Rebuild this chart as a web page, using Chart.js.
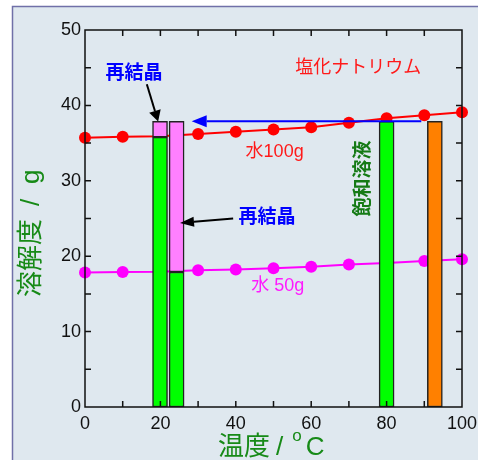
<!DOCTYPE html>
<html>
<head>
<meta charset="utf-8">
<script src="https://cdn.jsdelivr.net/npm/chart.js@4/dist/chart.umd.min.js"></script>
<style>
  html, body { margin: 0; padding: 0; background: #fff; }
</style>
</head>
<body>
<canvas id="solChart" width="478" height="460"></canvas>
<script>
// solubility of NaCl (g) against temperature (°C)
const temps = [0, 10, 20, 30, 40, 50, 60, 70, 80, 90, 100];
const water100 = [35.7, 35.85, 35.9, 36.2, 36.5, 36.8, 37.1, 37.7, 38.3, 38.7, 39.1];
const water50 = [17.85, 17.9, 17.95, 18.15, 18.25, 18.4, 18.6, 18.9, 19.1, 19.35, 19.6];
const xTicks = [0, 20, 40, 60, 80, 100];
const yTicks = [0, 10, 20, 30, 40, 50];

// bars: position on the temperature axis and [bottom, top]
const solutionX = [19.9, 24.3, 80];
const solutionY = [[0, 35.8], [0, 17.9], [0, 37.9]];
const crystalX = [19.9, 24.3];
const crystalY = [[35.8, 37.9], [17.9, 37.9]];
const heatedX = [92.8];
const heatedY = [[0, 37.9]];

const GREEN = "#178a17";
const LATIN = '"Liberation Sans", "Noto Sans CJK JP", sans-serif';
const CJK = '"Noto Sans CJK JP", sans-serif';

const pts = (xs, ys) => xs.map((v, i) => ({ x: v, y: ys[i] }));

function arrow(ctx, x1, y1, x2, y2, color, len, half) {
    const ang = Math.atan2(y2 - y1, x2 - x1);
    const bx = x2 - len * Math.cos(ang), by = y2 - len * Math.sin(ang);
    ctx.strokeStyle = color;
    ctx.fillStyle = color;
    ctx.lineWidth = 2;
    ctx.beginPath();
    ctx.moveTo(x1, y1);
    ctx.lineTo(bx, by);
    ctx.stroke();
    ctx.beginPath();
    ctx.moveTo(x2, y2);
    ctx.lineTo(bx + half * Math.sin(ang), by - half * Math.cos(ang));
    ctx.lineTo(bx - half * Math.sin(ang), by + half * Math.cos(ang));
    ctx.closePath();
    ctx.fill();
}

function label(ctx, text, px, py, font, color, rot) {
    ctx.save();
    ctx.translate(px, py);
    if (rot) ctx.rotate(rot);
    ctx.font = font;
    ctx.fillStyle = color;
    ctx.textAlign = "center";
    ctx.textBaseline = "middle";
    ctx.fillText(text, 0, 0);
    ctx.restore();
}

const panel = {
    id: "panel",
    beforeDraw(chart) {
        const ctx = chart.ctx;
        ctx.save();
        ctx.fillStyle = "#ffffff";
        ctx.fillRect(0, 0, chart.width, chart.height);
        ctx.fillStyle = "#dfe8ef";
        ctx.fillRect(12, 6, chart.width, chart.height);
        ctx.strokeStyle = "#7070a8";
        ctx.lineWidth = 1.5;
        ctx.beginPath();
        ctx.moveTo(12.5, chart.height);
        ctx.lineTo(12.5, 6.5);
        ctx.lineTo(chart.width, 6.5);
        ctx.stroke();
        ctx.restore();
    }
};

const overlay = {
    id: "overlay",
    afterDatasetsDraw(chart) {
        const { ctx, chartArea: a, scales: { x, y } } = chart;
        const X = v => x.getPixelForValue(v);
        const Y = v => y.getPixelForValue(v);
        ctx.save();

        // frame with inward ticks
        ctx.strokeStyle = "#111";
        ctx.lineWidth = 1.5;
        ctx.strokeRect(a.left, a.top, a.right - a.left, a.bottom - a.top);
        ctx.beginPath();
        for (let v = 10; v < 100; v += 10) {
            ctx.moveTo(X(v), a.bottom); ctx.lineTo(X(v), a.bottom - 6);
            ctx.moveTo(X(v), a.top); ctx.lineTo(X(v), a.top + 6);
        }
        for (let v = 5; v < 50; v += 5) {
            ctx.moveTo(a.left, Y(v)); ctx.lineTo(a.left + 6, Y(v));
            ctx.moveTo(a.right, Y(v)); ctx.lineTo(a.right - 6, Y(v));
        }
        ctx.stroke();

        // arrows
        arrow(ctx, X(89.2), Y(37.9), X(28.3), Y(37.9), "#0000ff", 15, 6);
        arrow(ctx, X(16.4), Y(42.8), X(19.4), Y(37.85), "#000", 11, 6);
        arrow(ctx, X(39.3), Y(25.0), X(25.2), Y(24.4), "#000", 14, 5);

        // annotations
        label(ctx, "塩化ナトリウム", X(72.5), Y(45.2), "18px " + CJK, "#ff1a1a");
        label(ctx, "水100g", X(50.3), Y(33.8), "18px " + LATIN, "#ff1a1a");
        label(ctx, "水 50g", X(51.1), Y(16.0), "18px " + LATIN, "#ff1aff");
        label(ctx, "再結晶", X(13.0), Y(44.5), "bold 19px " + CJK, "#0000ff");
        label(ctx, "再結晶", X(48.3), Y(25.3), "bold 19px " + CJK, "#0000ff");
        label(ctx, "飽和溶液", X(73.3), Y(30.3), "bold 19px " + CJK, "#157a15", -Math.PI / 2);
        ctx.restore();
    },
    afterDraw(chart) {
        const ctx = chart.ctx;
        ctx.save();
        ctx.fillStyle = GREEN;
        ctx.textBaseline = "alphabetic";
        ctx.textAlign = "left";

        // x title: 温度 / °C with raised o
        let px = 218;
        ctx.font = "26px " + CJK;
        ctx.fillText("温度", px, 455);
        px += ctx.measureText("温度").width + 6;
        ctx.font = "26px " + LATIN;
        ctx.fillText("/", px, 455);
        px += ctx.measureText("/").width + 9;
        ctx.font = "17px " + LATIN;
        ctx.fillText("o", px, 441);
        px += ctx.measureText("o").width + 4;
        ctx.font = "26px " + LATIN;
        ctx.fillText("C", px, 455);

        // y title rotated
        ctx.translate(39, 0);
        ctx.rotate(-Math.PI / 2);
        ctx.font = "26px " + CJK;
        ctx.fillText("溶解度", -297, 0);
        ctx.font = "26px " + LATIN;
        ctx.fillText("/", -206, 0);
        ctx.fillText("g", -184, 0);
        ctx.restore();
    }
};

const barStyle = {
    type: "bar",
    barThickness: 15,
    grouped: false,
    borderColor: "#222",
    borderWidth: 1.5,
    borderSkipped: false,
    order: 1
};

const lineStyle = {
    type: "line",
    borderWidth: 2,
    pointRadius: 6,
    pointHoverRadius: 6,
    pointBorderWidth: 0,
    clip: false,
    order: 2
};

const data = {
    datasets: [
        Object.assign({ label: "水100g", data: pts(temps, water100), borderColor: "#ff0000", backgroundColor: "#ff0000", pointBackgroundColor: "#ff0000" }, lineStyle),
        Object.assign({ label: "水 50g", data: pts(temps, water50), borderColor: "#ff00ff", backgroundColor: "#ff00ff", pointBackgroundColor: "#ff00ff" }, lineStyle),
        Object.assign({ label: "solution", data: pts(solutionX, solutionY), backgroundColor: "#00ff00" }, barStyle),
        Object.assign({ label: "crystal", data: pts(crystalX, crystalY), backgroundColor: "#ff80ff" }, barStyle),
        Object.assign({ label: "heated", data: pts(heatedX, heatedY), backgroundColor: "#ff8000" }, barStyle)
    ]
};

const config = {
    type: "line",
    data: data,
    options: {
        responsive: false,
        animation: false,
        layout: { padding: { top: 30, right: 16, left: 0, bottom: 0 } },
        plugins: {
            legend: { display: false },
            tooltip: { enabled: false }
        },
        scales: {
            x: {
                type: "linear",
                min: 0,
                max: 100,
                offset: false,
                grid: { display: false, drawTicks: false },
                border: { display: false },
                ticks: { color: "#111", font: { family: LATIN, size: 18 }, padding: 6, maxRotation: 0, autoSkip: false },
                afterBuildTicks: s => { s.ticks = xTicks.map(v => ({ value: v })); },
                afterFit: s => { s.height = 53; s.paddingLeft = 0; s.paddingRight = 0; }
            },
            y: {
                type: "linear",
                min: 0,
                max: 50,
                grid: { display: false, drawTicks: false },
                border: { display: false },
                ticks: { color: "#111", font: { family: LATIN, size: 18 }, padding: 4 },
                afterBuildTicks: s => { s.ticks = yTicks.map(v => ({ value: v })); },
                afterFit: s => { s.width = 85; s.paddingTop = 0; s.paddingBottom = 0; }
            }
        }
    },
    plugins: [panel, overlay]
};

new Chart(document.getElementById("solChart").getContext("2d"), config);
</script>
</body>
</html>
